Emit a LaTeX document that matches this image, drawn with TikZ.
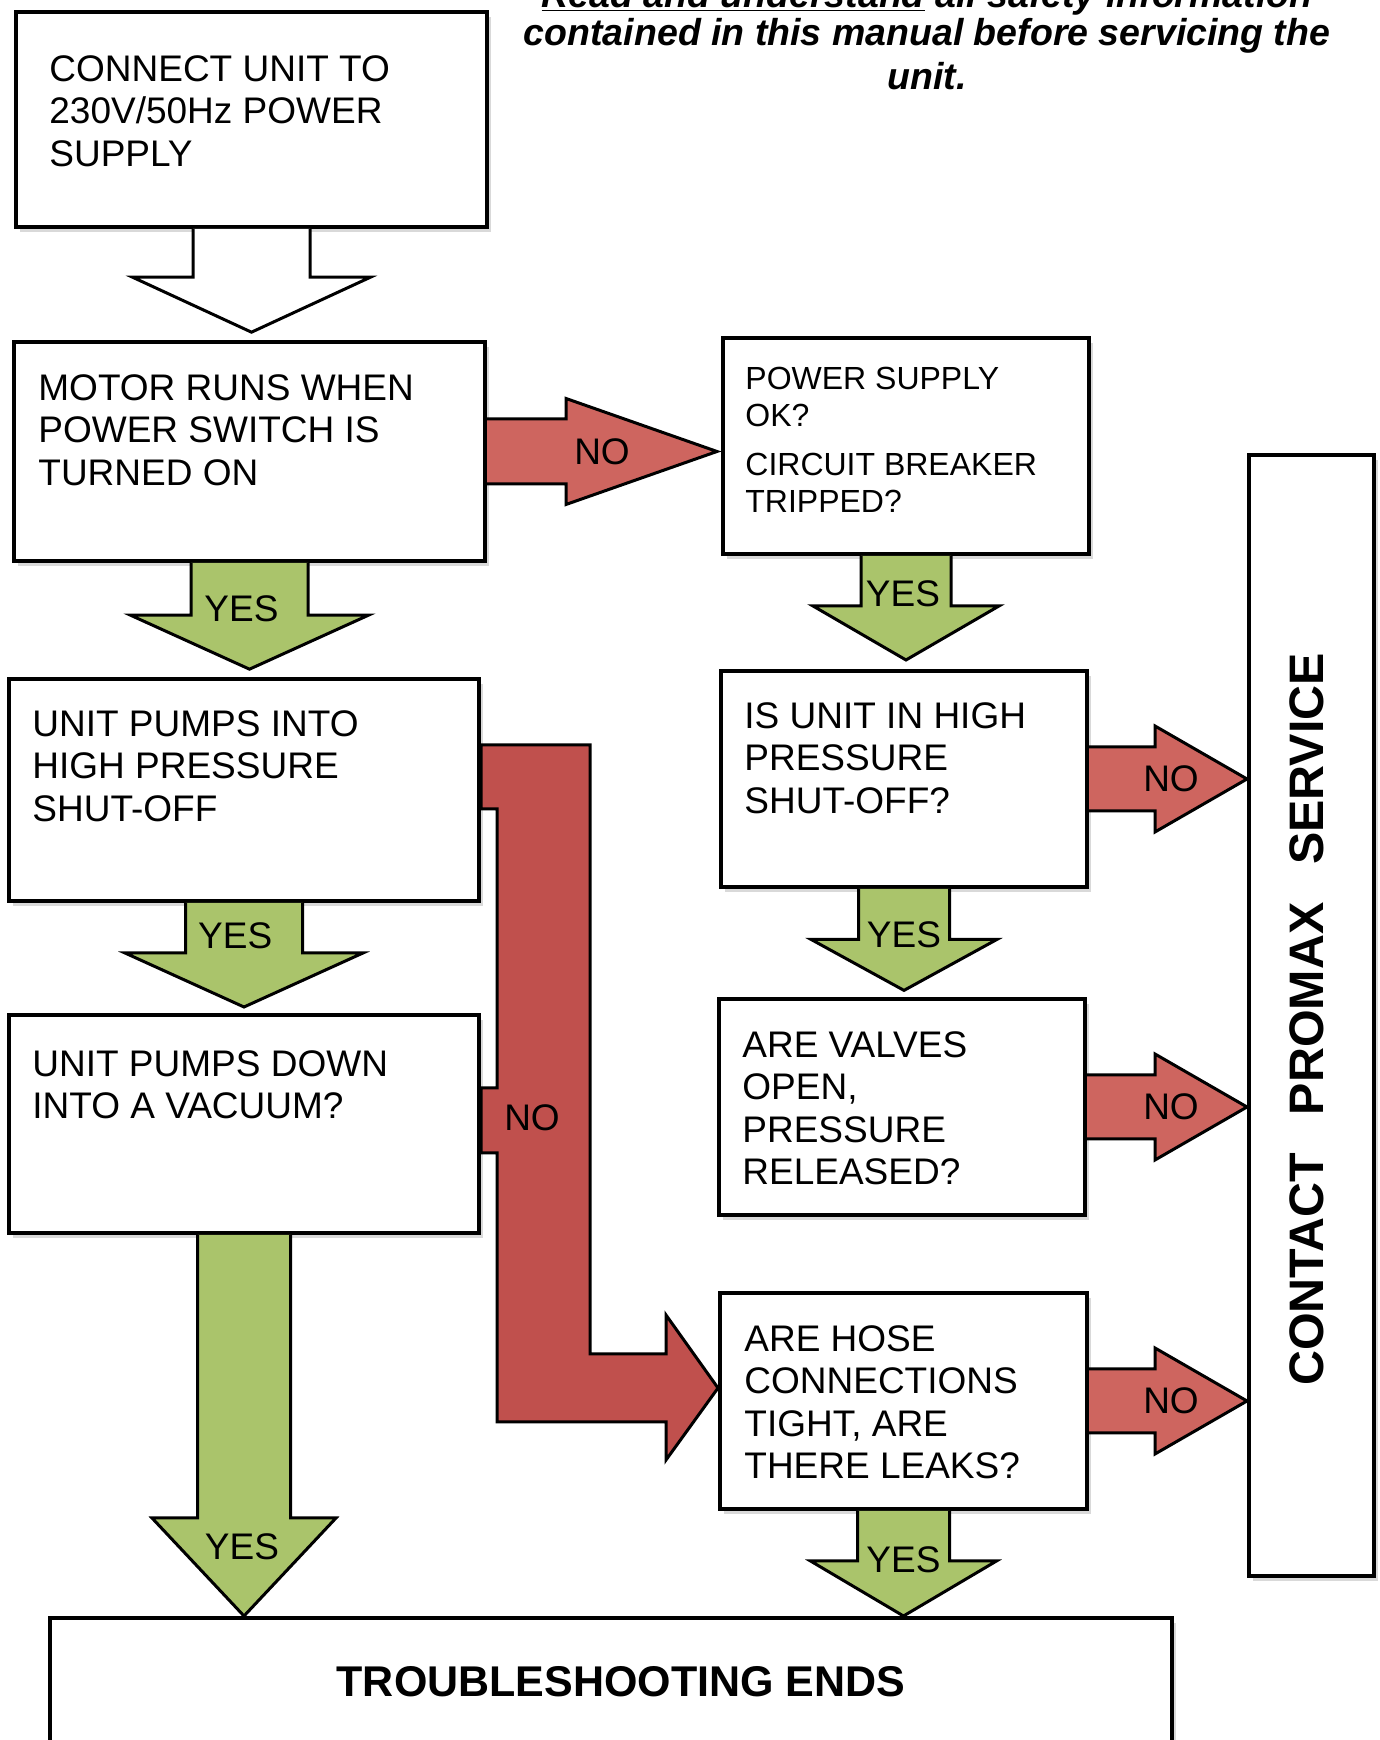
\documentclass[tikz,border=0pt]{standalone}
\usepackage{fontspec}
\setmainfont{Liberation Sans}
\usetikzlibrary{calc, shadows}

\definecolor{yesgreen}{RGB}{170,196,107}
\definecolor{nored}{RGB}{206,101,95}
\definecolor{nodark}{RGB}{192,80,77}

\tikzstyle{stepbox} = [rectangle, draw=black, line width=2pt, fill=white, anchor=north west, inner sep=0pt, drop shadow={opacity=0.3, shadow xshift=2pt, shadow yshift=-2.5pt}]
\tikzstyle{boxtext} = [anchor=north west, align=left, inner xsep=13pt, inner ysep=17pt, font=\fontsize{18.5}{21.2}\selectfont]
\tikzstyle{arrowlabel} = [inner sep=0pt, font=\fontsize{18.5}{21.2}\selectfont]
\tikzstyle{blankarrow} = [draw=black, line width=1.5pt, fill=white]
\tikzstyle{yesarrow} = [draw=black, line width=1.5pt, fill=yesgreen]
\tikzstyle{noarrow} = [draw=black, line width=1.5pt, fill=nored]
\tikzstyle{noarrowdark} = [draw=black, line width=1.5pt, fill=nodark]

% block arrow downwards: style, from, to, half shaft, half head, head length, label, label shift
\newcommand{\vblock}[8]{%
  \draw [#1] let \p1=(#2.south), \p2=#3 in
    (\x1-#4,\y1) -- (\x1-#4,\y2+#6) -- (\x1-#5,\y2+#6) -- (\x1,\y2)
    -- (\x1+#5,\y2+#6) -- (\x1+#4,\y2+#6) -- (\x1+#4,\y1)
    node [arrowlabel, #8] at (\x1,\y2) {#7};
}
% block arrow to the right
\newcommand{\hblock}[8]{%
  \draw [#1] let \p1=(#2.east), \p2=#3 in
    (\x1,\y1+#4) -- (\x2-#6,\y1+#4) -- (\x2-#6,\y1+#5) -- (\x2,\y1)
    -- (\x2-#6,\y1-#5) -- (\x2-#6,\y1-#4) -- (\x1,\y1-#4)
    node [arrowlabel, #8] at (\x2,\y1) {#7};
}

\begin{document}
\begin{tikzpicture}[x=1pt, y=1pt]

    \useasboundingbox (1,-1) rectangle (691,869);
    \clip (1,-1) rectangle (691,869);

    % Boxes
    \node (notice) [font=\fontsize{18.75}{22}\selectfont\bfseries\itshape, align=center, anchor=south, inner sep=0pt] at (464.5,824) {\underline{Read and understand} all safety information\\[-3pt]contained in this manual before servicing the\\unit.};
    \node (conn) [stepbox, minimum width=235.5pt, minimum height=107.5pt, label={[boxtext, inner xsep=17.5pt, inner ysep=22.5pt]north west:{CONNECT UNIT TO\\230V/50Hz POWER\\SUPPLY}}] at (8,864) {};
    \node (motor) [stepbox, minimum width=235.5pt, minimum height=109.5pt, label={[boxtext]north west:{MOTOR RUNS WHEN\\POWER SWITCH IS\\TURNED ON}}] at (7,699) {};
    \node (pumphp) [stepbox, minimum width=235pt, minimum height=111pt, label={[boxtext, inner xsep=12.5pt, inner ysep=16.5pt]north west:{UNIT PUMPS INTO\\HIGH PRESSURE\\SHUT-OFF}}] at (4.5,530.5) {};
    \node (vacuum) [stepbox, minimum width=235pt, minimum height=109pt, label={[boxtext, inner xsep=12.5pt, inner ysep=18.5pt]north west:{UNIT PUMPS DOWN\\INTO A VACUUM?}}] at (4.5,362.5) {};
    \node (power) [stepbox, minimum width=183pt, minimum height=108pt, label={[boxtext, font=\fontsize{16}{18.4}\selectfont, inner xsep=12pt, inner ysep=15.5pt]north west:{POWER SUPPLY\\OK?\\[6pt]CIRCUIT BREAKER\\TRIPPED?}}] at (361.5,701) {};
    \node (ishp) [stepbox, minimum width=183pt, minimum height=108pt, label={[boxtext, inner xsep=12.5pt, inner ysep=16.5pt]north west:{IS UNIT IN HIGH\\PRESSURE\\SHUT-OFF?}}] at (360.5,534.5) {};
    \node (valves) [stepbox, minimum width=183pt, minimum height=108pt, label={[boxtext, inner xsep=12.5pt]north west:{ARE VALVES\\OPEN,\\PRESSURE\\RELEASED?}}] at (359.5,370.5) {};
    \node (hose) [stepbox, minimum width=183.5pt, minimum height=108pt, label={[boxtext]north west:{ARE HOSE\\CONNECTIONS\\TIGHT, ARE\\THERE LEAKS?}}] at (360,223.5) {};
    \node (service) [stepbox, minimum width=62.5pt, minimum height=560.5pt, font=\fontsize{24.2}{28}\selectfont\bfseries] at (624.5,642.5) {\rotatebox{90}{CONTACT\hspace{0.78em}PROMAX\hspace{0.78em}SERVICE\hspace*{4pt}}\hspace*{4.5pt}};
    \node (endbox) [stepbox, minimum width=561pt, minimum height=64pt, font=\fontsize{21.5}{25}\selectfont\bfseries] at (25,61) {\hspace*{10pt}TROUBLESHOOTING ENDS};

    % Arrows
    \vblock{blankarrow}{conn}{($(motor.north)+(0,3.9pt)$)}{29.25pt}{59.5pt}{27.5pt}{}{}
    \vblock{yesarrow}{motor}{($(pumphp.north)+(0,3.9pt)$)}{29.25pt}{59.5pt}{27pt}{YES}{xshift=-4pt, yshift=30pt}
    \vblock{yesarrow}{pumphp}{($(vacuum.north)+(0,3pt)$)}{29.25pt}{59.5pt}{27pt}{YES}{xshift=-4.4pt, yshift=35.5pt}
    \vblock{yesarrow}{vacuum}{(endbox.north)}{23.25pt}{46pt}{49pt}{YES}{xshift=-1pt, yshift=34.5pt}
    \vblock{yesarrow}{power}{($(ishp.north)+(0,4.5pt)$)}{22.5pt}{46.5pt}{27pt}{YES}{xshift=-1.5pt, yshift=33pt}
    \vblock{yesarrow}{ishp}{($(valves.north)+(0,3.3pt)$)}{22.75pt}{46.5pt}{25.5pt}{YES}{yshift=28pt}
    \vblock{yesarrow}{hose}{(endbox.north)}{23pt}{46.5pt}{27.5pt}{YES}{yshift=28pt}

    \hblock{noarrow}{motor}{($(power.west)+(-2pt,0)$)}{16.25pt}{26.5pt}{75.5pt}{NO}{xshift=-57.5pt}
    \hblock{noarrow}{ishp}{(service.west)}{16pt}{26.5pt}{46pt}{NO}{xshift=-38pt}
    \hblock{noarrow}{valves}{(service.west)}{16pt}{26.5pt}{46pt}{NO}{xshift=-38pt}
    \hblock{noarrow}{hose}{(service.west)}{16pt}{26.5pt}{46pt}{NO}{xshift=-38pt}

    \draw [noarrowdark] let \p1=(pumphp.east), \p2=(vacuum.east), \p3=(hose.west) in
        (\x1,\y1+22.5pt) -- (\x1+54.5pt,\y1+22.5pt) -- (\x1+54.5pt,\y3+23.5pt)
        -- (\x3-26pt,\y3+23.5pt) -- (\x3-26pt,\y3+43pt) -- (\x3,\y3+6.5pt)
        -- (\x3-26pt,\y3-29.5pt) -- (\x3-26pt,\y3-10.5pt) -- (\x1+8pt,\y3-10.5pt)
        -- (\x1+8pt,\y2-14.5pt) -- (\x2,\y2-14.5pt) -- (\x2,\y2+18pt)
        -- (\x1+8pt,\y2+18pt) -- (\x1+8pt,\y1-9.5pt) -- (\x1,\y1-9.5pt) -- cycle
        node [arrowlabel] at (\x2+25.5pt,\y2+3pt) {NO};

\end{tikzpicture}
\end{document}
